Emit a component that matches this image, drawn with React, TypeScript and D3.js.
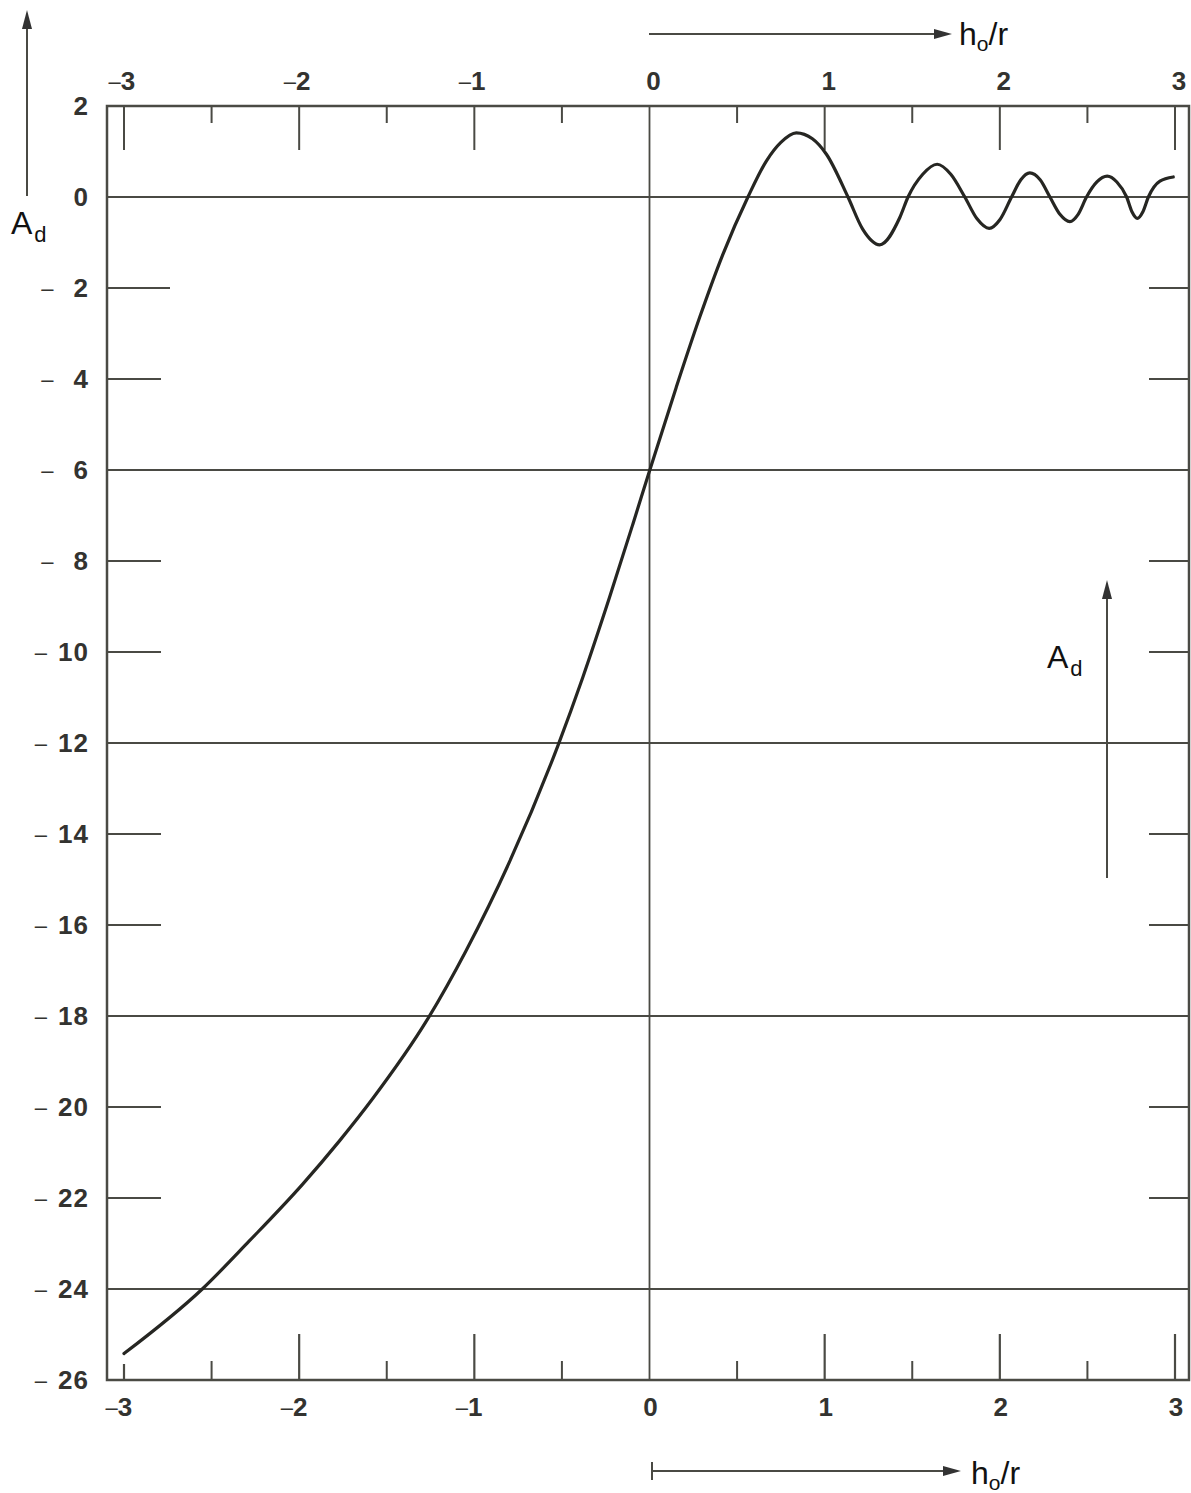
import React from 'react';
import * as d3 from 'd3';

// Curve A_d (dB) versus h0/r
const curveX = [-3.0, -2.553, -2.286, -1.981, -1.771, -1.581, -1.267, -1.048, -0.8, -0.52, -0.381, -0.229, -0.095, 0.0, 0.152, 0.286, 0.419, 0.562, 0.667, 0.75, 0.838, 0.93, 1.01, 1.133, 1.216, 1.314, 1.429, 1.476, 1.56, 1.642, 1.72, 1.8, 1.87, 1.939, 2.0, 2.067, 2.12, 2.171, 2.23, 2.286, 2.343, 2.4, 2.447, 2.495, 2.554, 2.613, 2.668, 2.724, 2.755, 2.785, 2.816, 2.848, 2.914, 2.99];
const curveY = [-25.42, -24.0, -22.95, -21.7, -20.75, -19.82, -18.07, -16.57, -14.62, -12.03, -10.56, -8.81, -7.19, -6.02, -4.19, -2.65, -1.26, 0.0, 0.79, 1.2, 1.41, 1.28, 0.94, 0.0, -0.7, -1.05, -0.45, 0.0, 0.5, 0.72, 0.5, 0.0, -0.48, -0.69, -0.5, 0.0, 0.38, 0.53, 0.38, 0.0, -0.38, -0.54, -0.38, 0.0, 0.33, 0.46, 0.33, 0.0, -0.33, -0.47, -0.33, 0.0, 0.35, 0.44];

const xTicks = [-3, -2, -1, 0, 1, 2, 3];
const xMinorTicks = [-2.5, -1.5, -0.5, 0.5, 1.5, 2.5];
const yTicks = [2, 0, -2, -4, -6, -8, -10, -12, -14, -16, -18, -20, -22, -24, -26];
const yGridLines = [0, -6, -12, -18, -24];
const yShortTicks = [-2, -4, -8, -10, -14, -16, -20, -22];

const FONT = "'Liberation Sans', Arial, Helvetica, sans-serif";
const LINE = '#4a4a44';
const LABEL = '#333330';

function TickLabel({ v, cx, baseline }: { v: number; cx: number; baseline: number }) {
  const digits = String(Math.abs(v));
  const w = digits.length * 14.5;
  return (
    <g>
      {v < 0 && (
        <text x={cx - w / 2} y={baseline - 1} textAnchor="end" fontFamily={FONT} fontSize={22} fill={LABEL}>
          –
        </text>
      )}
      <text x={cx} y={baseline} textAnchor="middle" fontFamily={FONT} fontWeight="bold" fontSize={26} fill={LABEL}>
        {digits}
      </text>
    </g>
  );
}

function YLabel({ v, yy }: { v: number; yy: number }) {
  const digits = String(Math.abs(v));
  const right = 89;
  const w = digits.length * 17.5;
  return (
    <g>
      {v < 0 && (
        <text x={right - w - (digits.length === 1 ? 18 : 7)} y={yy + 8} textAnchor="end" fontFamily={FONT} fontSize={22} fill={LABEL}>
          –
        </text>
      )}
      <text x={right} y={yy + 9} textAnchor="end" fontFamily={FONT} fontWeight="bold" fontSize={26} fill={LABEL} letterSpacing={1}>
        {digits}
      </text>
    </g>
  );
}

export default function App() {
  const x = d3.scaleLinear().domain([-3, 3]).range([124, 1175]);
  const y = d3.scaleLinear().domain([2, -26]).range([106, 1380]);

  const pts: [number, number][] = curveX.map((cx, i) => [x(cx), y(curveY[i])]);
  const linePath = d3.line().curve(d3.curveMonotoneX)(pts) || '';

  const left = 107;
  const right = 1189;
  const top = y(2);
  const bottom = y(-26);

  return (
    <svg width={1191} height={1493} style={{ position: 'absolute', left: 0, top: 0, background: '#fff' }}>
      <rect x={0} y={0} width={1191} height={1493} fill="#fff" />

      {/* frame */}
      <rect x={left} y={top} width={right - left} height={bottom - top} fill="none" stroke={LINE} strokeWidth={2.5} />

      {/* full grid lines */}
      {yGridLines.map((v) => (
        <line key={'g' + v} x1={left} x2={right} y1={y(v)} y2={y(v)} stroke={LINE} strokeWidth={2} />
      ))}
      {/* short ticks left and right */}
      {yShortTicks.map((v) => (
        <g key={'s' + v}>
          <line x1={left} x2={v === -2 ? 170 : 161} y1={y(v)} y2={y(v)} stroke={LINE} strokeWidth={2} />
          <line x1={1149} x2={right} y1={y(v)} y2={y(v)} stroke={LINE} strokeWidth={2} />
        </g>
      ))}

      {/* vertical line at 0 */}
      <line x1={x(0)} x2={x(0)} y1={top} y2={bottom} stroke={LINE} strokeWidth={1.8} />

      {/* top ticks */}
      {xTicks.filter((v) => v !== 0).map((v) => (
        <line key={'tt' + v} x1={x(v)} x2={x(v)} y1={top} y2={top + 44} stroke={LINE} strokeWidth={2} />
      ))}
      {xMinorTicks.map((v) => (
        <line key={'tm' + v} x1={x(v)} x2={x(v)} y1={top} y2={top + 17} stroke={LINE} strokeWidth={2} />
      ))}
      {/* bottom ticks */}
      {xTicks.filter((v) => v !== 0).map((v) => (
        <line key={'bt' + v} x1={x(v)} x2={x(v)} y1={bottom} y2={bottom - (v === -3 ? 16 : 46)} stroke={LINE} strokeWidth={2.2} />
      ))}
      {xMinorTicks.map((v) => (
        <line key={'bm' + v} x1={x(v)} x2={x(v)} y1={bottom} y2={bottom - 19} stroke={LINE} strokeWidth={2} />
      ))}

      {/* curve */}
      <path d={linePath} fill="none" stroke="#262622" strokeWidth={3.2} strokeLinejoin="round" strokeLinecap="round" />

      {/* tick labels */}
      {xTicks.map((v) => (
        <TickLabel key={'xl' + v} v={v} cx={x(v) + 4} baseline={90} />
      ))}
      {xTicks.map((v) => (
        <TickLabel key={'xb' + v} v={v} cx={x(v) + 1} baseline={1416} />
      ))}
      {yTicks.map((v) => (
        <YLabel key={'yl' + v} v={v} yy={y(v)} />
      ))}

      {/* top axis arrow */}
      <line x1={649} x2={938} y1={34} y2={34} stroke={LINE} strokeWidth={2} />
      <polygon points="952,34 934,29 934,39" fill="#333" />
      <text x={959} y={45} fontFamily={FONT} fontSize={32} fill="#111">
        h<tspan fontSize={21} dy={6}>o</tspan><tspan dy={-6}>/r</tspan>
      </text>

      {/* bottom axis arrow */}
      <line x1={652} x2={946} y1={1471} y2={1471} stroke={LINE} strokeWidth={2} />
      <line x1={652} x2={652} y1={1462} y2={1480} stroke={LINE} strokeWidth={2} />
      <polygon points="961,1471 943,1466 943,1476" fill="#333" />
      <text x={971} y={1484} fontFamily={FONT} fontSize={32} fill="#111">
        h<tspan fontSize={21} dy={6}>o</tspan><tspan dy={-6}>/r</tspan>
      </text>

      {/* left Ad arrow */}
      <line x1={27} x2={27} y1={196} y2={26} stroke={LINE} strokeWidth={2} />
      <polygon points="27,10 22,29 32,29" fill="#333" />
      <text x={11} y={234} fontFamily={FONT} fontSize={32} fill="#111">
        A<tspan fontSize={22} dx={2} dy={8}>d</tspan>
      </text>

      {/* right Ad arrow */}
      <line x1={1107} x2={1107} y1={878} y2={596} stroke={LINE} strokeWidth={2} />
      <polygon points="1107,580 1102,599 1112,599" fill="#333" />
      <text x={1047} y={668} fontFamily={FONT} fontSize={32} fill="#111">
        A<tspan fontSize={22} dx={2} dy={8}>d</tspan>
      </text>
    </svg>
  );
}
